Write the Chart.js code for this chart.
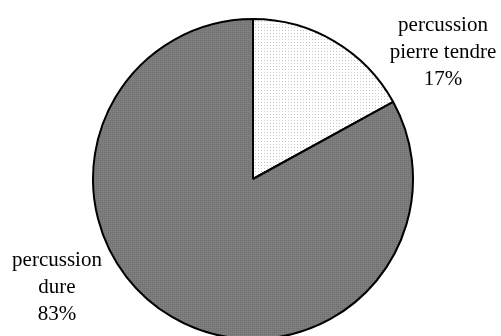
<!DOCTYPE html>
<html><head><meta charset="utf-8">
<script src="https://cdn.jsdelivr.net/npm/chart.js@4/dist/chart.umd.min.js"></script>
<style>html,body{margin:0;padding:0;background:#fff}#wrap{width:501px;height:336px}</style>
</head><body><div id="wrap"><canvas id="c" width="501" height="336"></canvas></div>
<script>
const categories = ["percussion pierre tendre", "percussion dure"];
const values = [17, 83];
const labelLines = [["percussion", "pierre tendre", "17%"], ["percussion", "dure", "83%"]];

function makePattern(bg, dot, step) {
  const p = document.createElement('canvas');
  p.width = step; p.height = step;
  const g = p.getContext('2d');
  g.fillStyle = bg; g.fillRect(0, 0, step, step);
  g.fillStyle = dot; g.fillRect(0, 0, 1, 1);
  return document.getElementById('c').getContext('2d').createPattern(p, 'repeat');
}
const lightFill = makePattern('#ffffff', '#c8c8c8', 3);
const grayFill = makePattern('#7e7e7e', '#6e6e6e', 2);

const labelPlugin = {
  id: 'sideLabels',
  afterDraw(chart) {
    const ctx = chart.ctx;
    const meta = chart.getDatasetMeta(0);
    const a0 = meta.data[0];
    const cx = a0.x, cy = a0.y;
    ctx.save();
    ctx.font = '21px "Liberation Serif", "Times New Roman", serif';
    ctx.fillStyle = '#000';
    ctx.textAlign = 'center';
    ctx.textBaseline = 'alphabetic';
    const pos = [[cx + 190, cy - 148], [cx - 196, cy + 87]];
    labelLines.forEach((lines, i) => {
      lines.forEach((t, j) => {
        ctx.fillText(t, pos[i][0], pos[i][1] + j * 27);
      });
    });
    ctx.restore();
  }
};

new Chart(document.getElementById('c'), {
  type: 'pie',
  data: {
    labels: categories,
    datasets: [{
      data: values,
      backgroundColor: [lightFill, grayFill],
      borderColor: '#000',
      borderWidth: 2,
      borderAlign: 'center'
    }]
  },
  options: {
    responsive: false,
    animation: false,
    radius: 160,
    layout: { padding: { top: 22, bottom: 0, left: 5, right: 0 } },
    plugins: { legend: { display: false }, tooltip: { enabled: false } }
  },
  plugins: [labelPlugin]
});
</script></body></html>
